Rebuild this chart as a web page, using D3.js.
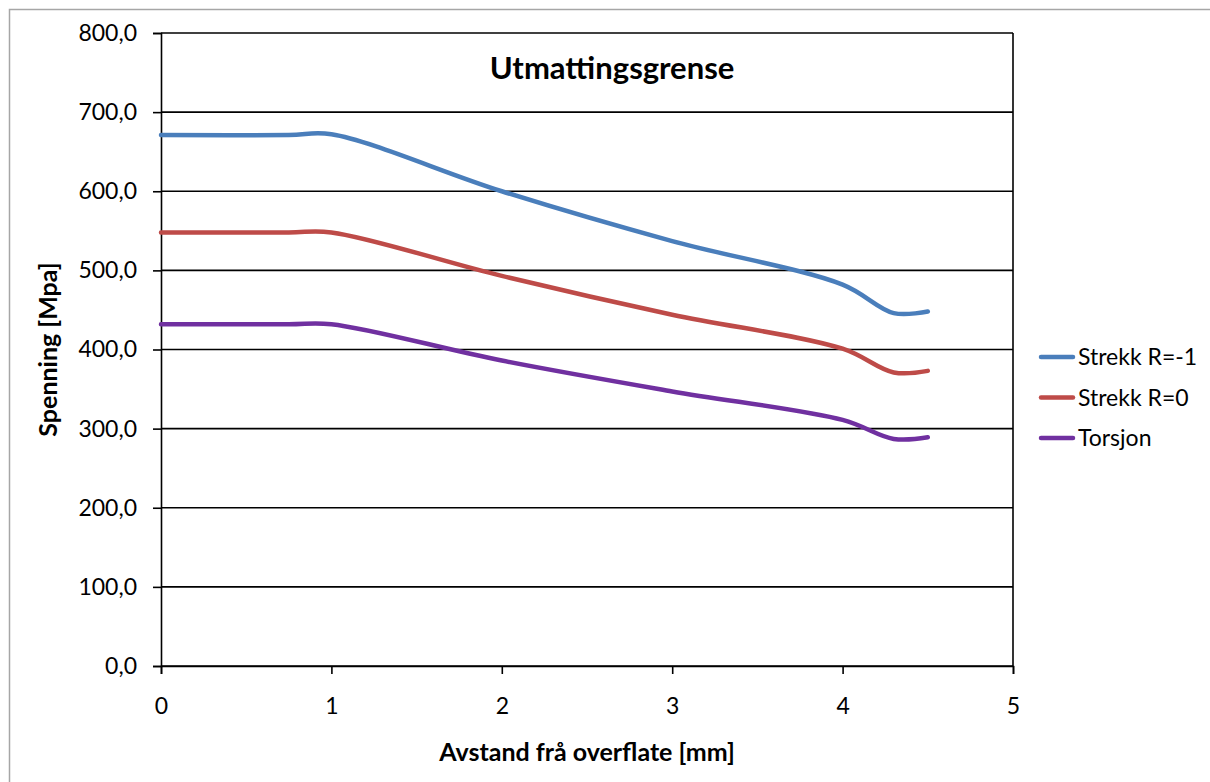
<!DOCTYPE html>
<html>
<head>
<meta charset="utf-8">
<script src="https://cdn.jsdelivr.net/npm/d3@7"></script>
<style>
  body { margin: 0; background: #fff; }
  svg { display: block; font-family: Lato, "Noto Sans", sans-serif; }
</style>
</head>
<body>
<svg width="1210" height="782"></svg>
<script>
'use strict';

// distance from surface [mm]
const distance = [0, 0.75, 1, 2, 3, 4, 4.3, 4.5];

// stress values [MPa]
const strekkRminus1 = [671, 671, 672, 600, 537, 482, 446, 448];
const strekkR0 = [548, 548, 548, 493, 444, 401, 371, 373];
const torsjon = [432, 432, 432, 386, 347, 311, 287, 289];

const seriesNames = ["Strekk R=-1", "Strekk R=0", "Torsjon"];
const seriesColors = ["#4a7ebb", "#be4b48", "#7030a0"];

const xTicks = [0, 1, 2, 3, 4, 5];
const yTicks = [0, 100, 200, 300, 400, 500, 600, 700, 800];

const svg = d3.select("svg");

// outer chart border
svg.append("rect")
    .attr("x", 9.5).attr("y", 9.5)
    .attr("width", 1260).attr("height", 820)
    .attr("fill", "none")
    .attr("stroke", "#a6a6a6")
    .attr("stroke-width", 1.5);

const plot = {left: 161, right: 1013, top: 33, bottom: 666};

const x = d3.scaleLinear().domain([0, 5]).range([plot.left, plot.right]);
const y = d3.scaleLinear().domain([0, 800]).range([plot.bottom, plot.top]);

const fmt = v => d3.format(".1f")(v).replace(".", ",");

// horizontal gridlines
svg.append("g")
    .selectAll("line")
    .data(yTicks)
    .enter().append("line")
    .attr("x1", plot.left).attr("x2", plot.right)
    .attr("y1", d => y(d)).attr("y2", d => y(d))
    .attr("stroke", "#000")
    .attr("stroke-width", 1.6);

// right edge of plot area
svg.append("line")
    .attr("x1", plot.right).attr("x2", plot.right)
    .attr("y1", plot.top).attr("y2", plot.bottom)
    .attr("stroke", "#000").attr("stroke-width", 1.6);

// y axis
const yAxis = svg.append("g")
    .attr("transform", "translate(" + plot.left + ",0)")
    .call(d3.axisLeft(y).tickValues(yTicks).tickFormat(fmt).tickSize(8).tickPadding(16));

// x axis
const xAxis = svg.append("g")
    .attr("transform", "translate(0," + plot.bottom + ")")
    .call(d3.axisBottom(x).tickValues(xTicks).tickFormat(d3.format("d")).tickSize(8).tickPadding(24));

[yAxis, xAxis].forEach(function (a) {
    a.select(".domain").attr("stroke", "#000").attr("stroke-width", 1.6);
    a.selectAll(".tick line").attr("stroke", "#000").attr("stroke-width", 1.6);
    a.selectAll(".tick text")
        .attr("fill", "#000")
        .style("font-family", "Lato, sans-serif")
        .style("font-size", "23px");
});

// series lines
const allSeries = [strekkRminus1, strekkR0, torsjon];

const line = d3.line()
    .x(function (d, i) { return x(distance[i]); })
    .y(function (d) { return y(d); })
    .curve(d3.curveCatmullRom.alpha(0.5));

svg.append("g")
    .selectAll("path")
    .data(allSeries)
    .enter().append("path")
    .attr("d", line)
    .attr("fill", "none")
    .attr("stroke", (d, i) => seriesColors[i])
    .attr("stroke-width", 4.5)
    .attr("stroke-linejoin", "round")
    .attr("stroke-linecap", "round");

// title
svg.append("text")
    .attr("x", 612).attr("y", 79)
    .attr("text-anchor", "middle")
    .style("font-size", "31px")
    .style("font-weight", "bold")
    .text("Utmattingsgrense");

// axis titles
svg.append("text")
    .attr("x", (plot.left + plot.right) / 2).attr("y", 761)
    .attr("text-anchor", "middle")
    .style("font-size", "25px")
    .style("font-weight", "bold")
    .text("Avstand frå overflate [mm]");

svg.append("text")
    .attr("transform", "translate(57," + (plot.top + plot.bottom) / 2 + ") rotate(-90)")
    .attr("text-anchor", "middle")
    .style("font-size", "25px")
    .style("font-weight", "bold")
    .text("Spenning [Mpa]");

// legend
const legend = svg.append("g")
    .selectAll("g")
    .data(seriesNames)
    .enter().append("g")
    .attr("transform", (d, i) => "translate(1041," + (357 + i * 40.5) + ")");

legend.append("line")
    .attr("x1", 0).attr("x2", 32)
    .attr("stroke", (d, i) => seriesColors[i])
    .attr("stroke-width", 4.5)
    .attr("stroke-linecap", "round");

legend.append("text")
    .attr("x", 37).attr("y", 8)
    .style("font-size", "23px")
    .text(d => d);
</script>
</body>
</html>
